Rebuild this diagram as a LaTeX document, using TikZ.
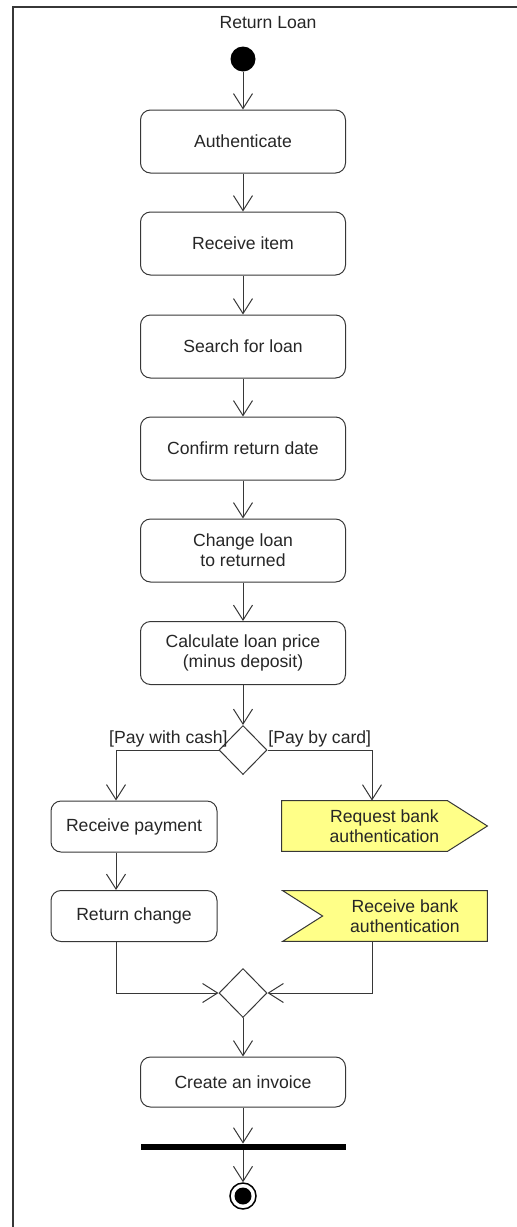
\documentclass[tikz,border=0pt]{standalone}
\usepackage{fontspec}
\setmainfont{Liberation Sans}
\usetikzlibrary{arrows.meta,calc,backgrounds,shapes.geometric}
\definecolor{sigyellow}{RGB}{255,255,136}
\definecolor{linegray}{RGB}{55,55,55}
\begin{document}
\begin{tikzpicture}[x=0.5pt,y=-0.5pt,
  every node/.style={font=\fontsize{8.8}{10}\selectfont, text=black!85},
  act/.style={draw=linegray, line width=0.5pt, rounded corners=5pt, minimum width=102.5pt, minimum height=31.5pt, align=center, inner sep=1pt},
  smallact/.style={act, minimum width=83pt, minimum height=25.5pt},
  flow/.style={draw=linegray, line width=0.5pt, -{Straight Barb[length=7.5pt,width=9.5pt]}},
  decision/.style={diamond, draw=linegray, line width=0.5pt, minimum width=24pt, minimum height=24.5pt, inner sep=0pt},
  sigtext/.style={align=center, minimum height=25pt, inner sep=0pt},
  sigshape/.style={fill=sigyellow, draw=linegray, line width=0.5pt}
  ]
\useasboundingbox (0,0) rectangle (517,1227);
\draw[linegray, line width=1pt] (13,1227) -- (13,7) -- (517,7);
\node (title) at (268,23) {Return Loan};
\node[circle, fill=black, minimum size=12.5pt, inner sep=0pt] (start) at (243,59) {};
\node[act] (auth) at (243,141.5) {Authenticate};
\node[act] (ritem) at (243,243.5) {Receive item};
\node[act] (search) at (243,346.5) {Search for loan};
\node[act] (confirm) at (243,448.5) {Confirm return date};
\node[act] (change) at (243,550.5) {Change loan\\to returned};
\node[act] (calc) at (243,653) {Calculate loan price\\(minus deposit)};
\node[decision] (d1) at (243,750) {};
\node[anchor=east, inner sep=0pt] (cash) at (228,739) {[Pay with cash]};
\node[anchor=west, inner sep=0pt] (card) at (268,739) {[Pay by card]};
\node[smallact] (rp) at (134,826.5) {Receive payment};
\node[smallact] (rc) at (134,916) {Return change};
\node[sigtext, minimum width=102.5pt] (rq) at (384.5,826) {Request bank\\authentication};
\node[sigtext, minimum width=82pt] (rv) at (405,916) {Receive bank\\authentication};
\begin{scope}[on background layer]
\path[sigshape] (rq.north west) -- ($(rq.north east)+(-40,0)$) -- (rq.east) -- ($(rq.south east)+(-40,0)$) -- (rq.south west) -- cycle;
\path[sigshape] ($(rv.north west)+(-40,0)$) -- (rv.north east) -- (rv.south east) -- ($(rv.south west)+(-40,0)$) -- (rv.west) -- cycle;
\end{scope}
\node[decision] (d2) at (243,993) {};
\node[act, minimum height=25pt] (inv) at (243,1082) {Create an invoice};
\node[fill=black, minimum width=102.5pt, minimum height=3pt, inner sep=0pt] (bar) at (243,1147) {};
\node[circle, draw=black, line width=0.75pt, minimum size=13pt, inner sep=0pt] (fin) at (243,1196) {};
\fill (fin.center) circle (4.25pt);
\coordinate (lx) at (116,0);
\coordinate (rx) at (372,0);
\draw[flow] (start) -- (auth);
\draw[flow] (auth) -- (ritem);
\draw[flow] (ritem) -- (search);
\draw[flow] (search) -- (confirm);
\draw[flow] (confirm) -- (change);
\draw[flow] (change) -- (calc);
\draw[flow] (calc) -- (d1);
\draw[flow] (d1.west) -| (rp.north -| lx);
\draw[flow] (d1.east) -| (rq.north -| rx);
\draw[flow] (rp.south -| lx) -- (rc.north -| lx);
\draw[flow] (rc.south -| lx) |- (d2.west);
\draw[flow] (rv.south -| rx) |- (d2.east);
\draw[flow] (d2) -- (inv);
\draw[flow] (inv) -- (bar);
\draw[flow] (bar) -- (fin);
\end{tikzpicture}
\end{document}
